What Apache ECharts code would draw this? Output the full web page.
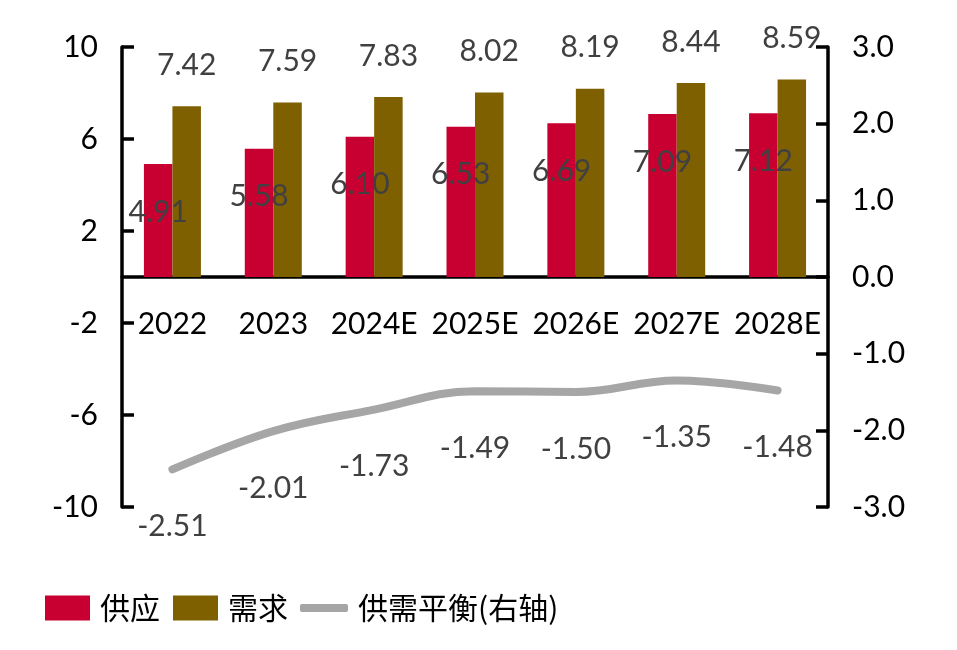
<!DOCTYPE html>
<html><head><meta charset="utf-8">
<script src="https://cdn.jsdelivr.net/npm/echarts@6/dist/echarts.min.js"></script>
<style>html,body{margin:0;padding:0;background:#fff}#c{width:957px;height:650px}</style>
</head><body><div id="c"></div>
<script>
const categories = ['2022','2023','2024E','2025E','2026E','2027E','2028E'];
const supply = [4.91, 5.58, 6.10, 6.53, 6.69, 7.09, 7.12];
const demand = [7.42, 7.59, 7.83, 8.02, 8.19, 8.44, 8.59];
const balance = [-2.51, -2.01, -1.73, -1.49, -1.50, -1.35, -1.48];
const leftTicks = {min: -10, max: 10, interval: 4};
const rightTicks = {min: -3, max: 3, interval: 1};

const FONT = 'Lato, "Noto Sans CJK SC", sans-serif';
const CJK = '"Noto Sans CJK SC", sans-serif';
const GRID = {left: 122, right: 129, top: 47, bottom: 143};
const plotH = 650 - GRID.top - GRID.bottom;
const zeroOffset = -plotH * (0 - leftTicks.min) / (leftTicks.max - leftTicks.min);
const chart = echarts.init(document.getElementById('c'));
const axisLineStyle = {color: '#000', width: 3.5};
const legendText = {fontSize: 30, color: '#000', fontFamily: CJK, padding: [0,0,0,5]};
chart.setOption({
  animation: false,
  textStyle: {fontFamily: FONT},
  grid: GRID,
  legend: [
    {left: 40, top: 588, itemWidth: 45, itemHeight: 25, textStyle: legendText, data: [{name: '供应', icon: 'rect'}]},
    {left: 168, top: 588, itemWidth: 45, itemHeight: 25, textStyle: legendText, data: [{name: '需求', icon: 'rect'}]},
    {left: 295, top: 588, itemWidth: 48, itemHeight: 8, textStyle: legendText,
     data: [{name: '供需平衡(右轴)', icon: 'roundRect', itemStyle: {color: '#A6A6A6', opacity: 1}}]}
  ],
  xAxis: {
    type: 'category', data: categories, position: 'bottom', offset: zeroOffset,
    axisLine: {onZero: false, lineStyle: axisLineStyle},
    axisTick: {inside: true, length: 12, lineStyle: {width: 3.5, color: '#000'}},
    axisLabel: {interval: 0, fontSize: 30, color: '#000', margin: 32, fontFamily: FONT}
  },
  yAxis: [{
    type: 'value', min: leftTicks.min, max: leftTicks.max, interval: leftTicks.interval,
    splitLine: {show: false},
    axisLine: {show: true, onZero: false, lineStyle: axisLineStyle},
    axisTick: {show: true, inside: true, length: 12, lineStyle: {width: 3.5, color: '#000'}},
    axisLabel: {fontSize: 30, color: '#000', margin: 24, fontFamily: FONT}
  }, {
    type: 'value', min: rightTicks.min, max: rightTicks.max, interval: rightTicks.interval,
    splitLine: {show: false},
    axisLine: {show: true, onZero: false, lineStyle: axisLineStyle},
    axisTick: {show: true, inside: true, length: 12, lineStyle: {width: 3.5, color: '#000'}},
    axisLabel: {fontSize: 30, color: '#000', margin: 24, fontFamily: FONT, formatter: v => v.toFixed(1)}
  }],
  series: [{
    name: '供应', type: 'bar', data: supply, barWidth: 28.5, barGap: '0%',
    itemStyle: {color: '#C80032'},
    label: {show: true, position: 'insideTop', distance: 33, fontSize: 30, color: '#404040', fontFamily: FONT, formatter: p => p.value.toFixed(2)}
  }, {
    name: '需求', type: 'bar', data: demand, barWidth: 28.5,
    itemStyle: {color: '#7F6000'},
    label: {show: true, position: 'top', distance: 26, fontSize: 30, color: '#404040', fontFamily: FONT, formatter: p => p.value.toFixed(2)}
  }, {
    name: '供需平衡(右轴)', type: 'line', yAxisIndex: 1, data: balance, smooth: 0.4,
    symbol: 'circle', symbolSize: 0.1, showSymbol: true,
    lineStyle: {color: '#A6A6A6', width: 8, cap: 'round'}, itemStyle: {color: '#A6A6A6'},
    label: {show: true, position: 'bottom', distance: 42, fontSize: 30, color: '#404040', fontFamily: FONT, formatter: p => p.value.toFixed(2)}
  }]
});
</script></body></html>
